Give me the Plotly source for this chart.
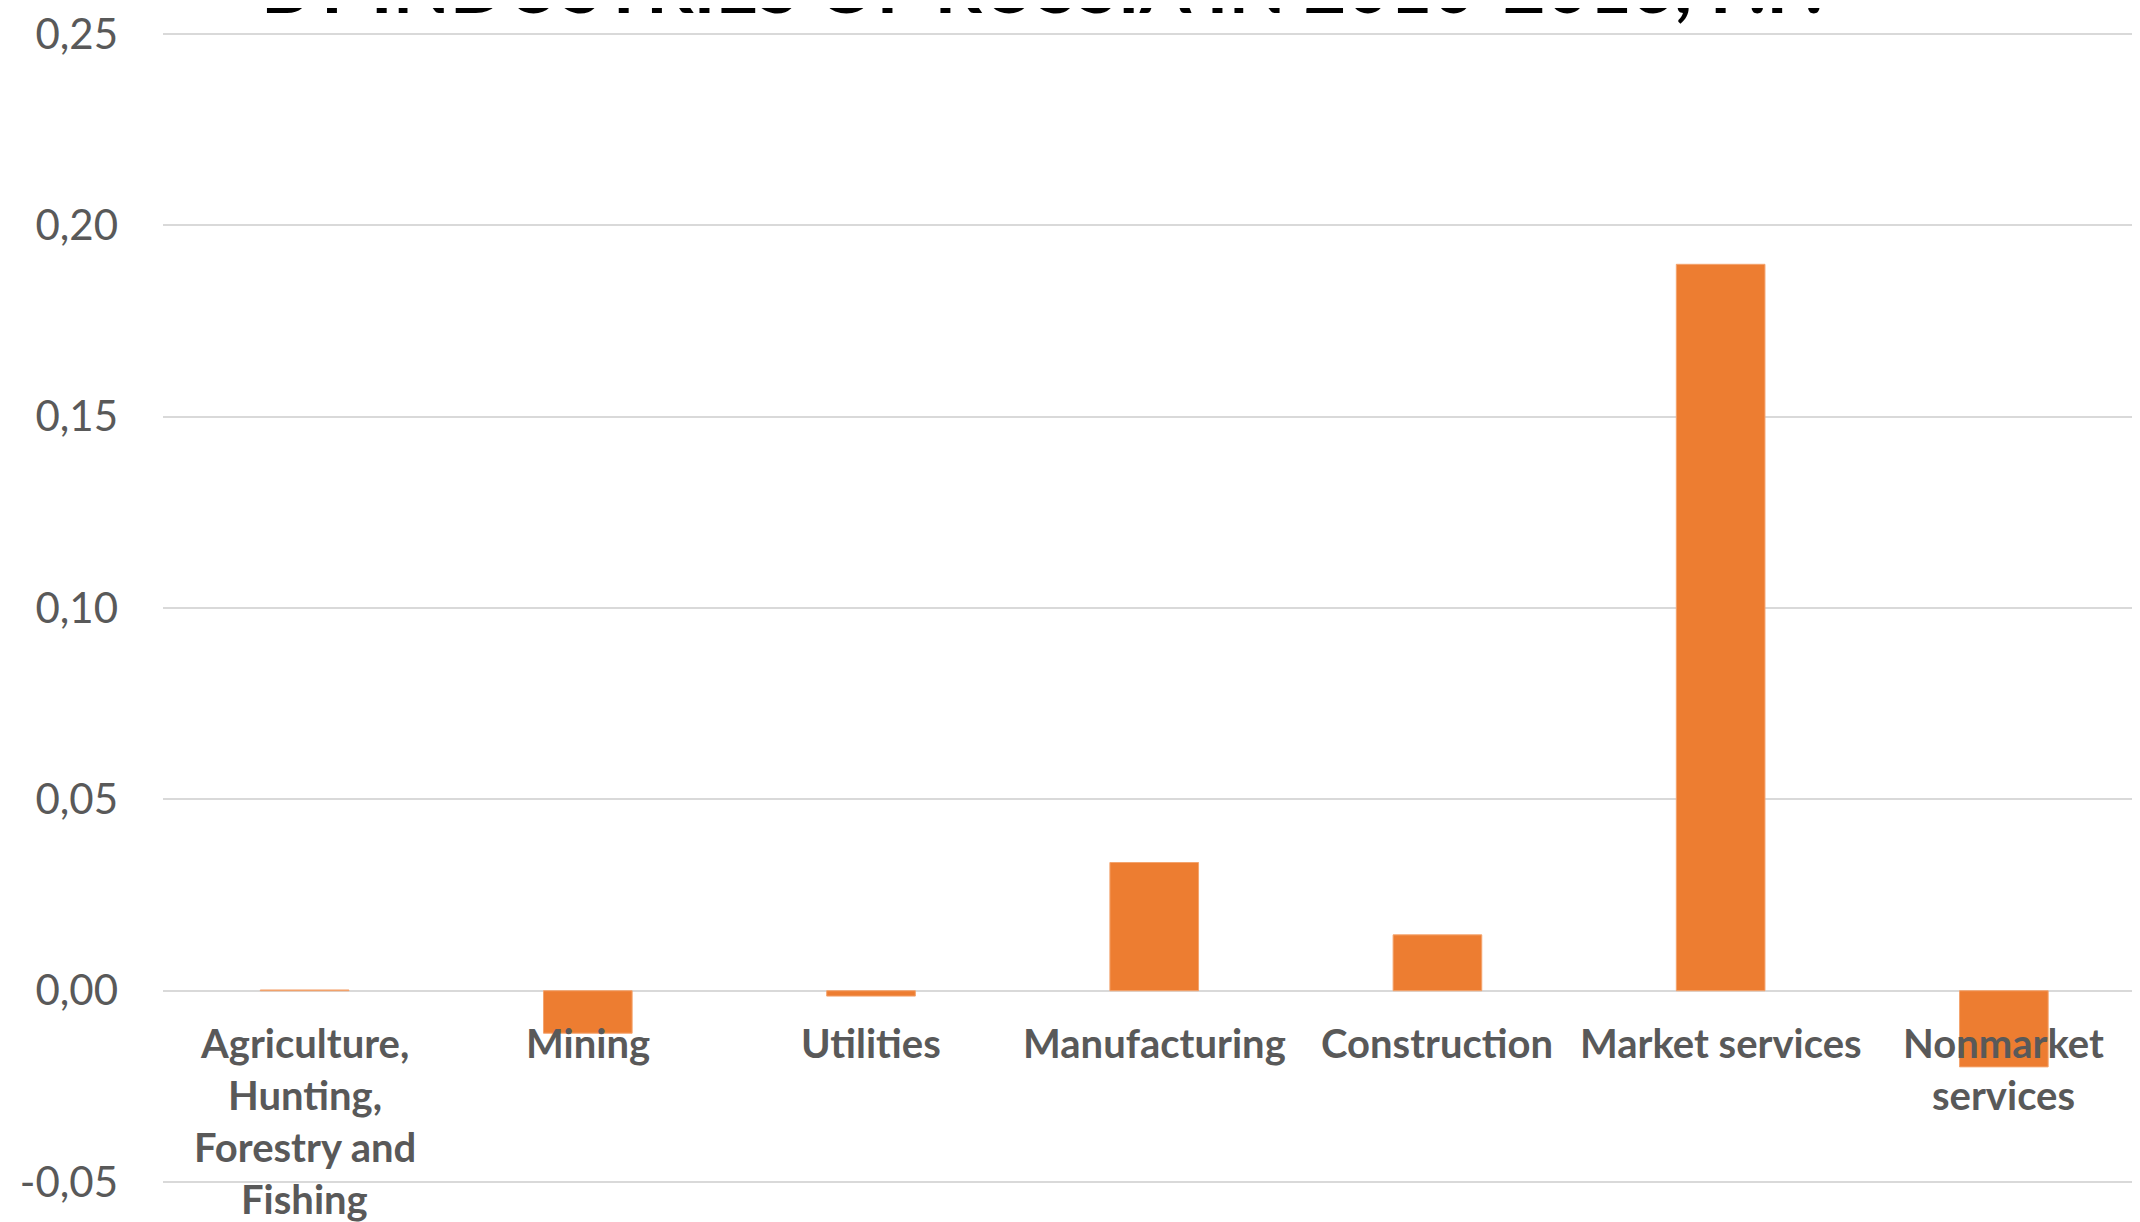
import plotly.graph_objects as go

categories = ["Agriculture, Hunting, Forestry and Fishing", "Mining", "Utilities",
              "Manufacturing", "Construction", "Market services", "Nonmarket services"]
label_lines = [["Agriculture,", "Hunting,", "Forestry and", "Fishing"],
               ["Mining"], ["Utilities"], ["Manufacturing"], ["Construction"],
               ["Market services"], ["Nonmarket", "services"]]
values = [0.0002, -0.0111, -0.0014, 0.0335, 0.0146, 0.1898, -0.0199]
y_ticks = [-0.05, 0.0, 0.05, 0.10, 0.15, 0.20, 0.25]
y_tick_labels = ["-0,05", "0,00", "0,05", "0,10", "0,15", "0,20", "0,25"]
title_text = "BY INDUSTRIES OF RUSSIA IN 2010-2016, P.P."

ORANGE = "#ED7D31"
GREY_TXT = "#595959"
GRID = "#D9D9D9"

fig = go.Figure()
fig.add_trace(go.Bar(
    x=categories, y=values,
    marker=dict(color=ORANGE, line=dict(color="#F4A46E", width=1)),
    showlegend=False, hoverinfo="skip",
))

annotations = []
for cat, lines in zip(categories, label_lines):
    for i, ln in enumerate(lines):
        annotations.append(dict(
            x=cat, y=0, xref="x", yref="y", text=ln, showarrow=False,
            xanchor="center", yanchor="middle", yshift=-52 * (i + 1),
            font=dict(family="Lato", size=40, color=GREY_TXT, weight="bold"),
        ))

annotations.append(dict(
    x=0.443, y=1.0416, xref="paper", yref="paper", text=title_text,
    showarrow=False, xanchor="center", yanchor="middle",
    font=dict(family="Lato", size=74, color="#000000", weight="bold"),
))

fig.update_layout(
    width=2140, height=1222,
    margin=dict(l=155, r=0, t=20, b=46),
    paper_bgcolor="white", plot_bgcolor="white",
    bargap=0.687,
    annotations=annotations,
    font=dict(family="Lato"),
)
fig.update_xaxes(
    range=[-0.5, 6.509], showticklabels=False, showgrid=False,
    showline=False, zeroline=False, ticks="",
)
fig.update_yaxes(
    range=[-0.0505, 0.2505], tickmode="array", tickvals=y_ticks, ticktext=y_tick_labels,
    ticklabeloverflow="allow",
    showgrid=True, gridcolor=GRID, gridwidth=1.7, zeroline=False,
    showline=False, ticks="", ticklabelstandoff=44,
    tickfont=dict(family="Lato", size=42, color=GREY_TXT),
)

fig.write_html("out.html")
